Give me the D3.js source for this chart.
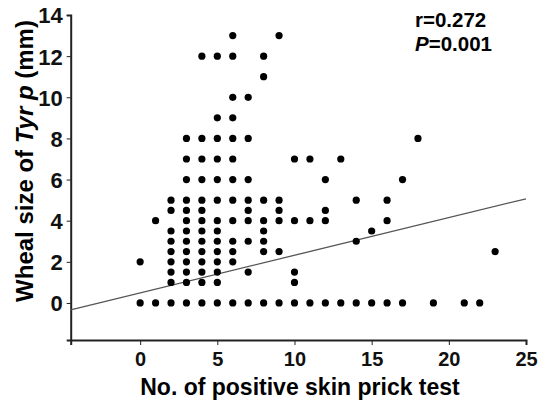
<!DOCTYPE html>
<html>
<head>
<meta charset="utf-8">
<script src="https://cdn.jsdelivr.net/npm/d3@7"></script>
<style>
  body { margin: 0; background: #fff; }
  svg { font-family: "Liberation Sans", Arial, sans-serif; }
  .axis path, .axis line { stroke: #222; }
  .axis text { font-weight: bold; fill: #111; }
</style>
</head>
<body>
<div id="chart"></div>
<script>
// number of positive skin prick tests (x) and Tyr p wheal size in mm (y), one entry per subject
var skinTests = [
  6, 9,
  4, 5, 6, 8,
  8,
  6, 7,
  5, 6,
  3, 4, 5, 6, 7, 18,
  3, 4, 5, 6, 10, 11, 13,
  3, 4, 5, 6, 7, 12, 17,
  2, 3, 4, 5, 6, 7, 8, 9, 14, 16,
  2, 3, 4, 7, 9, 12,
  1, 3, 4, 5, 6, 7, 8, 9, 10, 11, 12, 16,
  2, 3, 4, 5, 8, 15,
  2, 3, 4, 5, 6, 7, 8, 14,
  2, 3, 4, 5, 6, 8, 9, 23,
  0, 2, 3, 4, 5, 6,
  2, 3, 4, 5, 7, 10,
  2, 3, 4, 5, 10,
  0, 1, 2, 3, 4, 5, 6, 7, 8, 9, 10, 11, 12, 13, 14, 15, 16, 17, 19, 21, 22
];
var whealSizes = [
  13, 13,
  12, 12, 12, 12,
  11,
  10, 10,
  9, 9,
  8, 8, 8, 8, 8, 8,
  7, 7, 7, 7, 7, 7, 7,
  6, 6, 6, 6, 6, 6, 6,
  5, 5, 5, 5, 5, 5, 5, 5, 5, 5,
  4.5, 4.5, 4.5, 4.5, 4.5, 4.5,
  4, 4, 4, 4, 4, 4, 4, 4, 4, 4, 4, 4,
  3.5, 3.5, 3.5, 3.5, 3.5, 3.5,
  3, 3, 3, 3, 3, 3, 3, 3,
  2.5, 2.5, 2.5, 2.5, 2.5, 2.5, 2.5, 2.5,
  2, 2, 2, 2, 2, 2,
  1.5, 1.5, 1.5, 1.5, 1.5, 1.5,
  1, 1, 1, 1, 1,
  0, 0, 0, 0, 0, 0, 0, 0, 0, 0, 0, 0, 0, 0, 0, 0, 0, 0, 0, 0, 0
];
var xTicks = [0, 5, 10, 15, 20, 25];
var yTicks = [0, 2, 4, 6, 8, 10, 12, 14];
var xDomain = [-4.5, 25];
var yDomain = [-1.8, 14];
// linear fit
var fitIntercept = 0.49;
var fitSlope = 0.183;
var statLines = ["r=0.272", "=0.001"];

var width = 550, height = 400;
var plot = {left: 70.7, right: 526, top: 15, bottom: 340};

var svg = d3.select("#chart").append("svg")
  .attr("width", width).attr("height", height);

var x = d3.scaleLinear().domain(xDomain).range([plot.left, plot.right]);
var y = d3.scaleLinear().domain(yDomain).range([plot.bottom, plot.top]);

// axes
svg.append("g").attr("class", "axis")
  .attr("transform", "translate(0," + plot.bottom + ")")
  .call(d3.axisBottom(x).tickValues(xTicks).tickSizeOuter(0).tickSize(5).tickPadding(7))
  .call(function(g) {
    g.select(".domain").attr("stroke-width", 2);
    g.selectAll("text").attr("font-size", 20);
  });

svg.append("g").attr("class", "axis")
  .attr("transform", "translate(" + plot.left + ",0)")
  .call(d3.axisLeft(y).tickValues(yTicks).tickSizeOuter(0).tickSize(4).tickPadding(4))
  .call(function(g) {
    g.select(".domain").attr("stroke-width", 2);
    g.selectAll("text").attr("font-size", 22).attr("dy", "0.36em");
  });

// regression line
svg.append("line")
  .attr("x1", x(xDomain[0])).attr("y1", y(fitIntercept + fitSlope * xDomain[0]))
  .attr("x2", x(25)).attr("y2", y(fitIntercept + fitSlope * 25))
  .attr("stroke", "#555").attr("stroke-width", 1.3);

// points
svg.selectAll(".dot")
  .data(d3.range(skinTests.length))
  .enter().append("circle")
  .attr("class", "dot")
  .attr("cx", function(i) { return x(skinTests[i]); })
  .attr("cy", function(i) { return y(whealSizes[i]); })
  .attr("r", 3.6)
  .attr("fill", "#000");

// stats
svg.append("text")
  .attr("x", 415).attr("y", 27)
  .attr("font-size", 20.5).attr("font-weight", "bold")
  .text(statLines[0]);
var pTxt = svg.append("text")
  .attr("x", 415).attr("y", 51)
  .attr("font-size", 20.5).attr("font-weight", "bold");
pTxt.append("tspan").attr("font-style", "italic").text("P");
pTxt.append("tspan").text(statLines[1]);

// axis titles
svg.append("text")
  .attr("x", 300).attr("y", 395)
  .attr("text-anchor", "middle")
  .attr("font-size", 23).attr("font-weight", "bold")
  .text("No. of positive skin prick test");

var yTitle = svg.append("text")
  .attr("transform", "translate(33,161) rotate(-90)")
  .attr("text-anchor", "middle")
  .attr("font-size", 24).attr("font-weight", "bold");
yTitle.append("tspan").text("Wheal size of ");
yTitle.append("tspan").attr("font-style", "italic").text("Tyr p");
yTitle.append("tspan").text(" (mm)");
</script>
</body>
</html>
